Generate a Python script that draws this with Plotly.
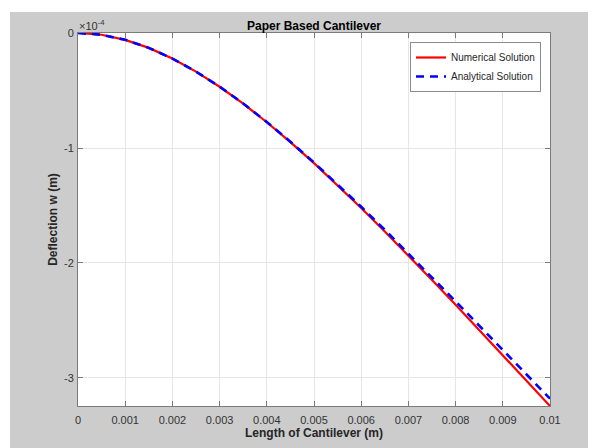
import plotly.graph_objects as go

# ---- data ----
x_len = [0.0, 0.0005, 0.001, 0.0015, 0.002, 0.0025, 0.003, 0.0035, 0.004, 0.0045, 0.005,
         0.0055, 0.006, 0.0065, 0.007, 0.0075, 0.008, 0.0085, 0.009, 0.0095, 0.01]
numerical_e4 = [0.0, -0.0154, -0.0595, -0.1294, -0.2225, -0.3358, -0.4673, -0.6147, -0.7759,
                -0.9488, -1.1319, -1.3235, -1.5220, -1.7264, -1.9354, -2.1480, -2.3636,
                -2.5813, -2.8008, -3.0216, -3.2436]
analytical_e4 = [0.0, -0.0154, -0.0595, -0.1293, -0.2223, -0.3354, -0.4665, -0.6132, -0.7734,
                 -0.9450, -1.1263, -1.3155, -1.5111, -1.7119, -1.9166, -2.1241, -2.3337,
                 -2.5445, -2.7561, -2.9680, -3.1800]
x_ticks = [0, 0.001, 0.002, 0.003, 0.004, 0.005, 0.006, 0.007, 0.008, 0.009, 0.01]
x_ticklabels = ["0", "0.001", "0.002", "0.003", "0.004", "0.005", "0.006", "0.007", "0.008", "0.009", "0.01"]
y_ticks_e4 = [0, -1, -2, -3]
y_ticklabels = ["0", "-1", "-2", "-3"]
scale = 1e-4

numerical = [v * scale for v in numerical_e4]
analytical = [v * scale for v in analytical_e4]
y_ticks = [v * scale for v in y_ticks_e4]

FONT = "Liberation Sans, Arial, Helvetica, sans-serif"
GRAY_BG = "#cccccc"

fig = go.Figure()
fig.add_trace(go.Scatter(x=x_len, y=numerical, mode="lines", name="Numerical Solution",
                         line=dict(color="#ff0000", width=2.2)))
fig.add_trace(go.Scatter(x=x_len, y=analytical, mode="lines", name="Analytical Solution",
                         line=dict(color="#0000ff", width=2.6, dash="8px,6px")))

# page is offset by the browser's 8px body margin
OFF = 8
W, H = 596, 448
# desired plot area in page pixels: x 78..550, y 33..406
L = 78 - OFF
T = 33 - OFF
R = W - (550 - OFF)
B = H - (406 - OFF)
pw, ph = W - L - R, H - T - B

def px_x(p):  # page pixel -> paper x
    return (p - OFF - L) / pw

def px_y(p):  # page pixel -> paper y
    return (H - B - (p - OFF)) / ph

fig.update_layout(
    width=W, height=H,
    margin=dict(l=L, r=R, t=T, b=B, pad=0),
    paper_bgcolor=GRAY_BG,
    plot_bgcolor="white",
    font=dict(family=FONT, color="#262626"),
    showlegend=True,
    title=dict(text="<b>Paper Based Cantilever</b>", font=dict(size=12, color="#000000"),
               x=px_x(314), xref="paper", xanchor="center",
               y=1 - (30.0 - OFF) / H, yref="container", yanchor="bottom"),
    legend=dict(x=px_x(541), y=px_y(42), xanchor="right", yanchor="top",
                bgcolor="white", bordercolor="#8c8c8c", borderwidth=1,
                font=dict(size=10, color="#262626", family=FONT),
                tracegroupgap=0, itemwidth=30),
    xaxis=dict(range=[x_len[0], x_len[-1]], tickvals=x_ticks, ticktext=x_ticklabels,
               showgrid=True, gridcolor="#e6e6e6", gridwidth=1,
               showline=True, linecolor="#7a7a7a", linewidth=1, mirror="ticks",
               ticks="inside", ticklen=5, tickcolor="#7a7a7a",
               ticklabelstandoff=4,
               tickfont=dict(size=11, color="#333333"),
               title=dict(text="<b>Length of Cantilever (m)</b>", font=dict(size=12, color="#262626"),
                          standoff=3),
               zeroline=False),
    yaxis=dict(range=[min(numerical), 0], tickvals=y_ticks, ticktext=y_ticklabels,
               showgrid=True, gridcolor="#e6e6e6", gridwidth=1,
               showline=True, linecolor="#7a7a7a", linewidth=1, mirror="ticks",
               ticks="inside", ticklen=5, tickcolor="#7a7a7a",
               ticklabelstandoff=1,
               tickfont=dict(size=11, color="#333333"),
               title=dict(text="<b>Deflection w (m)</b>", font=dict(size=12, color="#262626"),
                          standoff=3),
               zeroline=False),
    shapes=[
        dict(type="rect", xref="paper", yref="paper", x0=-0.3, x1=1.3,
             y0=px_y(12), y1=1.3, fillcolor="white", line=dict(width=0), layer="below"),
        dict(type="rect", xref="paper", yref="paper", x0=-0.3, x1=px_x(10),
             y0=-0.3, y1=1.3, fillcolor="white", line=dict(width=0), layer="below"),
    ],
    annotations=[
        dict(text="×10<sup>-4</sup>", xref="paper", yref="paper", x=px_x(77), y=px_y(34),
             xanchor="left", yanchor="bottom", showarrow=False,
             font=dict(size=11, color="#333333", family=FONT)),
    ],
)

fig.write_html("out.html")
